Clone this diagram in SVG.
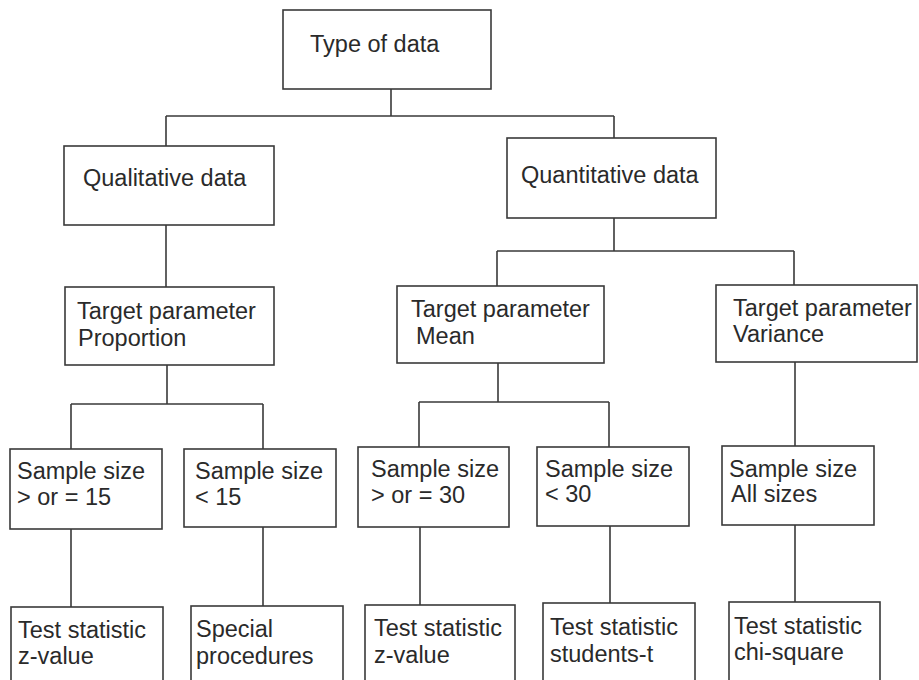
<svg xmlns="http://www.w3.org/2000/svg" width="919" height="680" viewBox="0 0 919 680">
<style>
.box{fill:#fff;stroke:#3a3a3a;stroke-width:1.6}
.t{font-family:"Liberation Sans",Arial,sans-serif;font-size:23.5px;fill:#2a2a2a}
.c{fill:none;stroke:#3a3a3a;stroke-width:1.6}
</style>
<rect width="919" height="680" fill="#fff"/>
<g id="connectors" class="c">
<path d="M391 89V116M166 116H614M166 116V146M614 116V138"/>
<path d="M166 225V287"/>
<path d="M167 365V404M71 404H263M71 404V449M263 404V449"/>
<path d="M614 218V251M497 251H794M497 251V286M794 251V285"/>
<path d="M498 363V402M419 402H609M419 402V447M609 402V447"/>
<path d="M795 362V446"/>
<path d="M71 529V607M263 527V606M420 527V605M610 526V603M795 525V602"/>
</g>
<g id="type-of-data"><rect class="box" x="283" y="10" width="208" height="79"/><text class="t" x="310" y="52">Type of data</text></g>
<g id="qualitative"><rect class="box" x="64" y="146" width="210" height="79"/><text class="t" x="83" y="186">Qualitative data</text></g>
<g id="quantitative"><rect class="box" x="507" y="138" width="209" height="80"/><text class="t" x="521" y="183">Quantitative data</text></g>
<g id="target-proportion"><rect class="box" x="65" y="287" width="209" height="78"/><text class="t" x="77" y="319">Target parameter</text><text class="t" x="78" y="346">Proportion</text></g>
<g id="target-mean"><rect class="box" x="397" y="286" width="207" height="77"/><text class="t" x="411" y="317">Target parameter</text><text class="t" x="416" y="344">Mean</text></g>
<g id="target-variance"><rect class="box" x="716" y="285" width="201" height="77"/><text class="t" x="733" y="316">Target parameter</text><text class="t" x="733" y="342">Variance</text></g>
<g id="sample-ge15"><rect class="box" x="10" y="449" width="152" height="80"/><text class="t" x="17" y="479">Sample size</text><text class="t" x="17" y="505">&gt; or = 15</text></g>
<g id="sample-lt15"><rect class="box" x="184" y="449" width="152" height="78"/><text class="t" x="195" y="479">Sample size</text><text class="t" x="195" y="505">&lt; 15</text></g>
<g id="sample-ge30"><rect class="box" x="358" y="447" width="151" height="80"/><text class="t" x="371" y="477">Sample size</text><text class="t" x="371" y="503">&gt; or = 30</text></g>
<g id="sample-lt30"><rect class="box" x="537" y="447" width="152" height="79"/><text class="t" x="545" y="477">Sample size</text><text class="t" x="545" y="502">&lt; 30</text></g>
<g id="sample-all"><rect class="box" x="722" y="446" width="152" height="79"/><text class="t" x="729" y="477">Sample size</text><text class="t" x="731" y="502">All sizes</text></g>
<g id="test-z1"><rect class="box" x="11" y="607" width="152" height="90"/><text class="t" x="18" y="638">Test statistic</text><text class="t" x="18" y="664">z-value</text></g>
<g id="special"><rect class="box" x="191" y="606" width="152" height="90"/><text class="t" x="196" y="637">Special</text><text class="t" x="196" y="664">procedures</text></g>
<g id="test-z2"><rect class="box" x="365" y="605" width="150" height="90"/><text class="t" x="374" y="636">Test statistic</text><text class="t" x="374" y="663">z-value</text></g>
<g id="test-t"><rect class="box" x="543" y="603" width="152" height="90"/><text class="t" x="550" y="635">Test statistic</text><text class="t" x="550" y="662">students-t</text></g>
<g id="test-chi"><rect class="box" x="729" y="602" width="151" height="90"/><text class="t" x="734" y="634">Test statistic</text><text class="t" x="734" y="660">chi-square</text></g>
</svg>
